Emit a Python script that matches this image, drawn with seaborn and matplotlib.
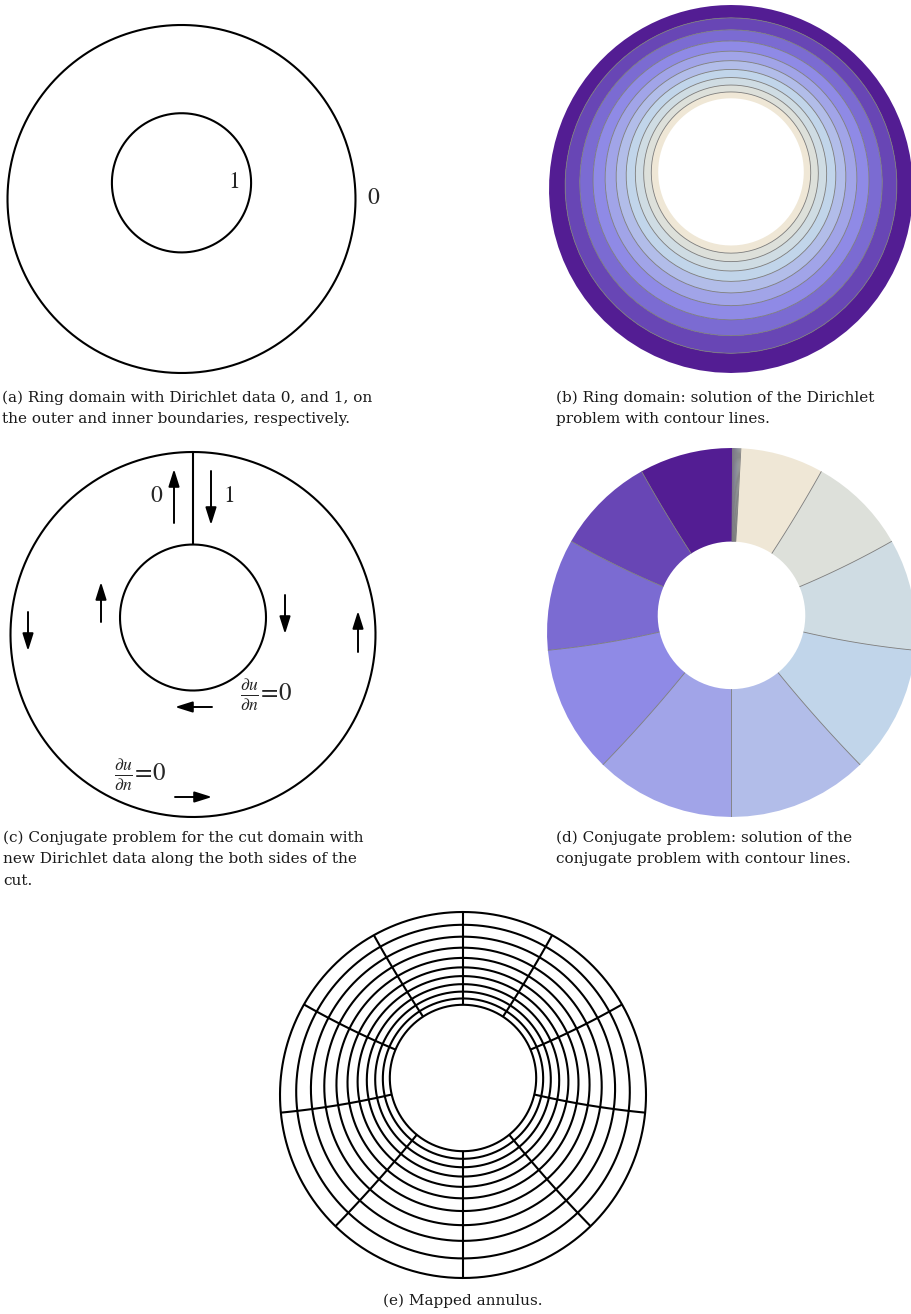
import numpy as np
import matplotlib
matplotlib.use("Agg")
import matplotlib.pyplot as plt
from matplotlib.colors import ListedColormap
import seaborn as sns

# ---------------------------
# Data
# ---------------------------
# ring geometry, outer radius = 1
inner_radius = 0.40
inner_offset = 0.093          # inner circle centre shifted upwards

# contour levels of u (ring solution) and v (conjugate), 10 bands each
levels = [0.0, 0.1, 0.2, 0.3, 0.4, 0.5, 0.6, 0.7, 0.8, 0.9, 1.0]

# band colours from value 0 (outer / left of cut) to 1 (inner / right of cut)
band_colors = ["#531d93", "#6846b5", "#7b6bd2", "#8f8ae6", "#a1a4e8",
               "#b2bde9", "#c1d5ea", "#cfdce3", "#dde0da", "#efe7d6"]

boundary_labels_a = ["1", "0"]
cut_labels_c = ["0", "1"]
neumann_label = r"$\frac{\partial u}{\partial n}\!=\!0$"

captions = {
    "a": ["(a) Ring domain with Dirichlet data 0, and 1, on",
          "the outer and inner boundaries, respectively."],
    "b": ["(b) Ring domain: solution of the Dirichlet",
          "problem with contour lines."],
    "c": ["(c) Conjugate problem for the cut domain with",
          "new Dirichlet data along the both sides of the",
          "cut."],
    "d": ["(d) Conjugate problem: solution of the",
          "conjugate problem with contour lines."],
    "e": ["(e) Mapped annulus."],
}

# ---------------------------
# Styling
# ---------------------------
sns.set_theme(style="white")
plt.rcParams["mathtext.fontset"] = "stix"
cmap = ListedColormap(sns.color_palette(band_colors))

W, H = 911, 1314
fig = plt.figure(figsize=(W / 100, H / 100), dpi=100)

# ---------------------------
# Conformal map onto a concentric annulus
# ---------------------------
d, r = inner_offset, inner_radius
q = 1 + d * d - r * r
a = 1j * (q - np.sqrt(q * q - 4 * d * d)) / (2 * d)
z_top = 1j * (d + r)
rho = abs((z_top - a) / (1 - np.conj(a) * z_top))


def to_z(w):
    return (w + a) / (1 + np.conj(a) * w)


n_theta = 90
theta = np.pi / 2 - 2 * np.pi / n_theta + 2 * np.pi * np.arange(n_theta + 1) / n_theta
u_grid = np.linspace(0, 1, 121)
TH, UU = np.meshgrid(theta, u_grid)
Z = to_z(rho ** UU * np.exp(1j * TH))
X, Y = Z.real, Z.imag
V = np.tile(((np.arange(n_theta + 1) - 1) % n_theta) / n_theta, (len(u_grid), 1))


def panel_axes(cx, cy, rx, ry=None, m=1.04):
    ry = rx if ry is None else ry
    ax = fig.add_axes([(cx - m * rx) / W, (H - cy - m * ry) / H,
                       2 * m * rx / W, 2 * m * ry / H])
    ax.set_xlim(-m, m)
    ax.set_ylim(-m, m)
    ax.axis("off")
    return ax


def level_circle(ax, u, **kw):
    t = np.linspace(0, 2 * np.pi, 600)
    z = to_z(rho ** u * np.exp(1j * t))
    ax.plot(z.real, z.imag, **kw)


def level_ray(ax, v, **kw):
    s = np.linspace(rho, 1, 100)
    z = to_z(s * np.exp(1j * (np.pi / 2 + 2 * np.pi * v)))
    ax.plot(z.real, z.imag, **kw)


line_kw = dict(color="black", lw=1.5, solid_capstyle="butt")

# (a) ring domain
ax_a = panel_axes(181.5, 199, 174)
level_circle(ax_a, levels[0], **line_kw)
level_circle(ax_a, levels[-1], **line_kw)

# (b) solution of the Dirichlet problem
ax_b = panel_axes(731, 189, 182, 184)
ax_b.contourf(X, Y, UU, levels=levels, cmap=cmap, antialiased=True)
ax_b.contour(X, Y, UU, levels=levels[1:-1], colors="#7a7a7a", linewidths=0.6)

# (c) conjugate problem with cut
ax_c = panel_axes(193, 634.5, 182.5)
level_circle(ax_c, levels[0], **line_kw)
level_circle(ax_c, levels[-1], **line_kw)
level_ray(ax_c, levels[0], **line_kw)

# (d) solution of the conjugate problem
ax_d = panel_axes(731.5, 632.5, 184.5)
ax_d.contourf(X, Y, V, levels=levels, cmap=cmap, antialiased=True)
ax_d.contour(X, Y, V, levels=levels[1:-1], colors="#7a7a7a", linewidths=0.6)

# (e) mapped annulus grid
ax_e = panel_axes(463, 1095, 183)
for lv in levels:
    level_circle(ax_e, lv, **line_kw)
for lv in levels[:-1]:
    level_ray(ax_e, lv, **line_kw)

# ---------------------------
# Labels, arrows, captions (pixel overlay)
# ---------------------------
ov = fig.add_axes([0, 0, 1, 1], zorder=10)
ov.set_xlim(0, W)
ov.set_ylim(H, 0)
ov.axis("off")
ov.patch.set_alpha(0)

lab_kw = dict(family="STIXGeneral", fontsize=17, ha="center", va="center")
ov.text(234, 182, boundary_labels_a[0], **lab_kw)
ov.text(373, 198, boundary_labels_a[1], **lab_kw)
ov.text(156, 496, cut_labels_c[0], **lab_kw)
ov.text(229, 496, cut_labels_c[1], **lab_kw)
ov.text(266, 695, neumann_label, fontsize=18, ha="center", va="center")
ov.text(140, 775, neumann_label, fontsize=18, ha="center", va="center")

arrows = [((174, 523), (174, 469)), ((211, 471), (211, 525)),
          ((28, 612), (28, 651)), ((101, 622), (101, 582)),
          ((285, 595), (285, 634)), ((358, 652), (358, 611)),
          ((212, 707), (175, 707)), ((175, 797), (212, 797))]
for tail, head in arrows:
    ov.annotate("", xy=head, xytext=tail,
                arrowprops=dict(arrowstyle="-|>,head_length=0.7,head_width=0.22",
                                color="black", lw=1.4,
                                mutation_scale=15, shrinkA=0, shrinkB=0))

cap_kw = dict(family="DejaVu Serif", fontsize=11, va="center", color="#1a1a1a")
for key, x0, y0 in [("a", 2, 398), ("b", 556, 398), ("c", 3, 838), ("d", 556, 838)]:
    for i, line in enumerate(captions[key]):
        ov.text(x0, y0 + 21.5 * i, line, ha="left", **cap_kw)
ov.text(463, 1301, captions["e"][0], ha="center", **cap_kw)

fig.savefig("out.png", dpi=100)
